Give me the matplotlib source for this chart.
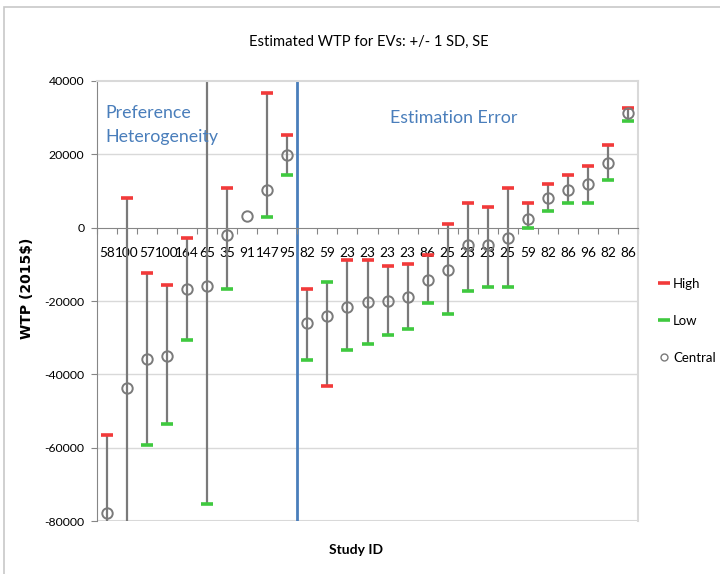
"""
Estimated WTP for EVs: +/- 1 SD, SE  (high-low-central chart)
"""
import numpy as np
import matplotlib
matplotlib.use("Agg")
import matplotlib.pyplot as plt
from matplotlib.lines import Line2D
from matplotlib.patches import Rectangle

plt.rcParams["font.family"] = ["Lato", "DejaVu Sans"]

# ── data ───────────────────────────────────────────────────────────
study_ids = ["58", "100", "57", "100", "164", "65", "35", "91", "147", "95",
             "82", "59", "23", "23", "23", "23", "86", "25", "23", "23",
             "25", "59", "82", "86", "96", "82", "86"]
high = [-56600, 8000, -12500, -15700, -2700, 45000, 10900, np.nan, 36700, 25400,
        -16800, -43200, -8900, -8900, -10400, -10000, -7500, 900, 6800, 5700,
        10900, 6600, 11800, 14400, 16900, 22600, 32600]
low = [-95000, -95000, -59200, -53500, -30600, -75400, -16800, np.nan, 3000, 14300,
       -36000, -14700, -33300, -31800, -29200, -27600, -20500, -23600, -17200, -16200,
       -16300, -200, 4500, 6600, 6600, 12900, 29000]
central = [-77900, -43700, -35800, -34900, -16800, -15900, -2000, 3200, 10200, 19900,
           -26000, -24000, -21500, -20400, -19900, -18800, -14200, -11600, -4800, -4800,
           -2700, 2300, 8200, 10200, 11800, 17500, 31300]
y_ticks = [-80000, -60000, -40000, -20000, 0, 20000, 40000]
n_left = 10   # studies in the "Preference Heterogeneity" group

BLUE = "#4a7ebb"
GRID = "#d9d9d9"
AXIS = "#868686"

fig = plt.figure(figsize=(7.2, 5.74), dpi=100)
fig.patch.set_facecolor("white")
fig.add_artist(Rectangle((0.006, -0.01), 1.0, 0.997, transform=fig.transFigure,
                         fill=False, ec="#c8c8c8", lw=1.2))

ax = fig.add_axes([97 / 720, 1 - 521 / 574, 541 / 720, 440 / 574])
x = np.arange(len(study_ids))
hi = np.array(high, float)
lo = np.array(low, float)
ok = ~np.isnan(hi)

ax.set_xlim(-0.5, len(study_ids) - 0.5)
ax.set_ylim(-80000, 40000)

for yv in y_ticks:
    if yv not in (0, -80000, 40000):
        ax.axhline(yv, color=GRID, lw=1, zorder=0)

ax.vlines(x[ok], lo[ok], hi[ok], color="#7a7a7a", lw=1.6, zorder=2)
ax.plot(x, hi, ls="none", marker="_", ms=8, mew=2.6, color="#f23a3a", zorder=3)
ax.plot(x, lo, ls="none", marker="_", ms=8, mew=2.6, color="#3fc93f", zorder=3)
ax.plot(x, central, ls="none", marker="o", ms=7.5, mfc="none", mec="#7a7a7a",
        mew=1.4, zorder=4)

# divider between the two groups
ax.axvline(n_left - 0.5, color=BLUE, lw=2, zorder=1)

ax.text(-0.1, 33500, "Preference\nHeterogeneity", color=BLUE, fontsize=12.8,
        va="top", ha="left", linespacing=1.65)
ax.text(17.3, 30000, "Estimation Error", color=BLUE, fontsize=12.8,
        va="center", ha="center")

# category axis crossing at zero, ticks between categories
for s in ("top", "right"):
    ax.spines[s].set_color(GRID)
    ax.spines[s].set_linewidth(1.5)
ax.spines["bottom"].set_position(("data", 0))
ax.spines["bottom"].set_color(AXIS)
ax.spines["left"].set_color(AXIS)
ax.axhline(-80000, color=GRID, lw=1.5, zorder=0)

ax.set_xticks(np.arange(len(study_ids) + 1) - 0.5)
ax.set_xticklabels([])
ax.tick_params(axis="x", which="major", length=4, color=AXIS, direction="out")
ax.set_xticks(x, minor=True)
ax.set_xticklabels(study_ids, minor=True, fontsize=9.8)
ax.tick_params(axis="x", which="minor", length=0, pad=14)

ax.set_yticks(y_ticks)
ax.set_yticklabels([str(v) for v in y_ticks], fontsize=8.8)
ax.tick_params(axis="y", length=4, color=AXIS, pad=5)

fig.text(27 / 720, 1 - 288 / 574, "WTP (2015$)", fontsize=10, fontweight="bold",
         rotation=90, ha="center", va="center", family=["DejaVu Sans"])
fig.text(356 / 720, 1 - 550 / 574, "Study ID", fontsize=10, fontweight="bold",
         ha="center", va="center")
fig.text(369 / 720, 1 - 42 / 574, "Estimated WTP for EVs: +/- 1 SD, SE",
         fontsize=10.6, ha="center", va="center")

handles = [
    Line2D([], [], ls="none", marker="_", ms=8, mew=2.6, color="#f23a3a"),
    Line2D([], [], ls="none", marker="_", ms=8, mew=2.6, color="#3fc93f"),
    Line2D([], [], ls="none", marker="o", ms=5, mfc="none", mec="#7a7a7a", mew=1),
]
fig.legend(handles, ["High", "Low", "Central"], loc="upper left",
           bbox_to_anchor=(648 / 720, 1 - 266 / 574), frameon=False,
           fontsize=9.5, handlelength=0.7, handletextpad=0.3, labelspacing=1.9)

fig.savefig("out.png", dpi=100, facecolor="white")
